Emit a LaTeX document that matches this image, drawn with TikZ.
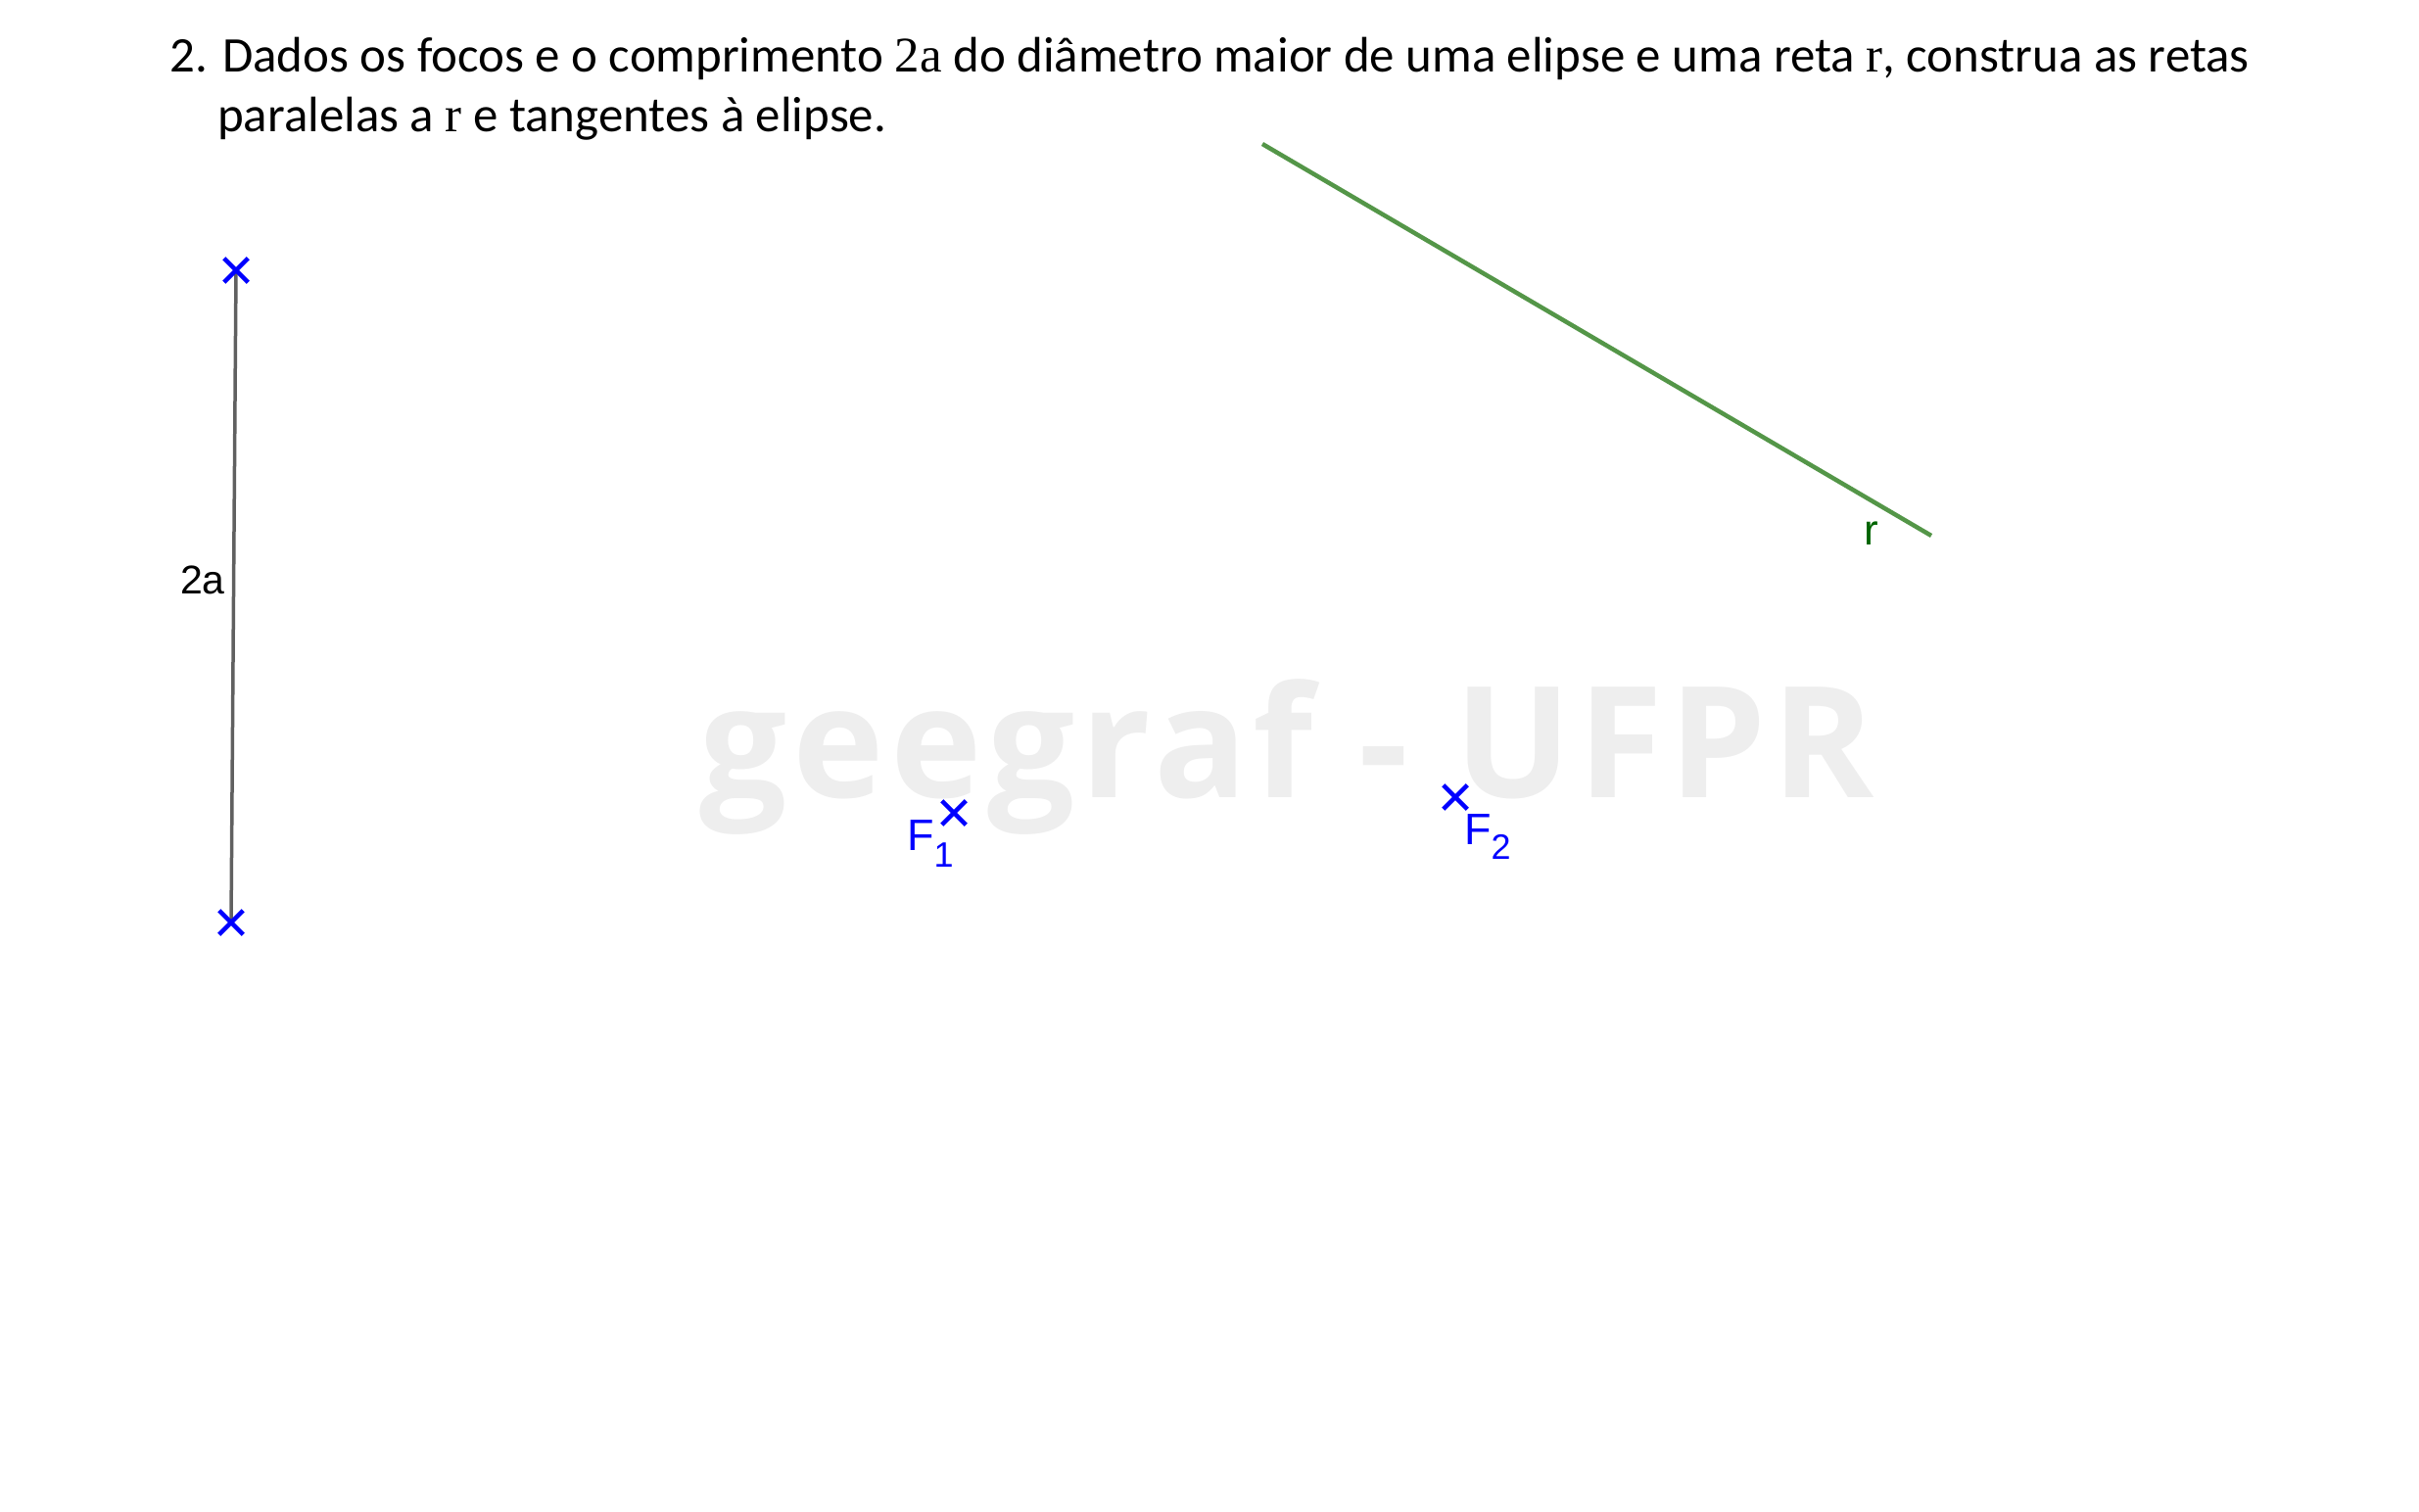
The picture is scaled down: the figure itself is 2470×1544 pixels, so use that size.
\documentclass[tikz,border=0pt]{standalone}
\usepackage{fontspec}
\setmainfont{Carlito}
\newfontfamily\labfont{Liberation Sans}
\newfontfamily\serfont{Liberation Serif}
\newfontfamily\wmfont[LetterSpace=3.8]{Open Sans}
\usetikzlibrary{shapes.misc}
\definecolor{ptblue}{RGB}{0,0,255}
\definecolor{segray}{RGB}{96,96,96}
\definecolor{lngreen}{RGB}{84,150,72}
\definecolor{lblgreen}{RGB}{0,100,0}
\definecolor{wmgray}{RGB}{238,238,238}
\begin{document}
\begin{tikzpicture}[x=1pt,y=-1pt,
  ptmark/.style={cross out, draw=ptblue, line width=4.5pt, minimum size=20pt, inner sep=0pt},
  seg/.style={draw=segray, line width=3.5pt},
  lnr/.style={draw=lngreen, line width=4.5pt},
  titletext/.style={anchor=base west, inner sep=0pt, font=\fontsize{50.9}{60}\selectfont},
  lbl/.style={inner sep=0pt, font=\labfont\fontsize{41}{41}\selectfont},
  flbl/.style={anchor=base west, inner sep=0pt, text=ptblue, font=\labfont\fontsize{45}{45}\selectfont}]
\useasboundingbox (0,0) rectangle (2470,1544);
% watermark
\node[anchor=base, inner sep=0pt, text=wmgray, font=\wmfont\bfseries\fontsize{158}{158}\selectfont] (wm) at (1314,814) {geegraf - UFPR};
% title
\node[titletext] (t1) at (173,74) {2. Dados os focos e o comprimento {\serfont 2a} do diâmetro maior de uma elipse e uma reta {\serfont r}, construa as retas};
\node[titletext] (t2) at (222,135) {paralelas a {\serfont r} e tangentes à elipse.};
% segment 2a
\coordinate (A) at (241,276);
\coordinate (B) at (236,942);
\draw[seg] (A) -- (B);
\node[ptmark] (Am) at (A) {};
\node[ptmark] (Bm) at (B) {};
\node[lbl, anchor=base east] (l2a) at (230,606) {2a};
% line r
\coordinate (r1) at (1289,147);
\coordinate (r2) at (1972,547);
\draw[lnr] (r1) -- (r2);
\node[lbl, anchor=base west, text=lblgreen, font=\labfont\fontsize{44}{44}\selectfont] (lr) at (1903,556) {r};
% foci
\node[ptmark] (F1) at (974,830) {};
\node[flbl] (lF1) at (926,868) {F\raisebox{-17pt}{\fontsize{36}{36}\selectfont 1}};
\node[ptmark] (F2) at (1486,814) {};
\node[flbl] (lF2) at (1495,862) {F\raisebox{-15pt}{\fontsize{36}{36}\selectfont 2}};
\end{tikzpicture}
\end{document}
